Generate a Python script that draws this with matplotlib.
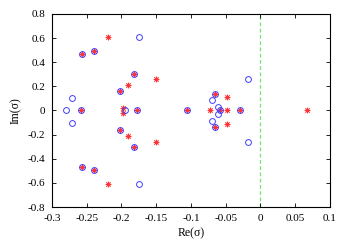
import numpy as np
import matplotlib
matplotlib.use("Agg")
import matplotlib.pyplot as plt

plt.rcParams["font.family"] = ["Liberation Serif", "DejaVu Serif"]
plt.rcParams["mathtext.fontset"] = "stix"

# eigenvalues, first model (open circles)
re_a = [-0.280, -0.271, -0.271, -0.258, -0.257, -0.257, -0.240, -0.240,
        -0.202, -0.202, -0.195, -0.175, -0.175, -0.182, -0.182, -0.178,
        -0.106, -0.065, -0.065, -0.069, -0.069, -0.061, -0.061, -0.058,
        -0.030, -0.018, -0.018]
im_a = [0.0, 0.101, -0.104, 0.0, 0.467, -0.467, 0.494, -0.494,
        0.162, -0.162, 0.0, 0.607, -0.607, 0.305, -0.305, 0.0,
        0.0, 0.138, -0.138, 0.088, -0.088, 0.028, -0.028, 0.0,
        0.0, 0.265, -0.265]

# eigenvalues, second model (stars)
re_b = [-0.258, -0.257, -0.257, -0.240, -0.240, -0.220, -0.220,
        -0.202, -0.202, -0.191, -0.191, -0.198, -0.198, -0.182, -0.182,
        -0.178, -0.150, -0.150, -0.106, -0.072, -0.065, -0.065,
        -0.048, -0.048, -0.058, -0.048, -0.030, 0.067]
im_b = [0.0, 0.467, -0.467, 0.494, -0.494, 0.607, -0.607,
        0.162, -0.162, 0.211, -0.211, 0.022, -0.022, 0.305, -0.305,
        0.0, 0.260, -0.260, 0.0, 0.0, 0.138, -0.138,
        0.112, -0.112, 0.0, 0.0, 0.0, 0.0]

fig = plt.figure(figsize=(3.51, 2.45), dpi=100)
ax = fig.add_axes([0.148, 0.155, 0.792, 0.788])

ax.axvline(0, color="#77e077", lw=0.9, ls=(0, (3, 2)), zorder=1)
ax.plot(re_b, im_b, ls="none", marker=(8, 2, 0), ms=4, mec="#ff3333",
        mew=0.6, zorder=2)
ax.plot(re_a, im_a, ls="none", marker="o", ms=4.2, mfc="none",
        mec="#4040ff", mew=0.7, zorder=3)

ax.set_xlim(-0.3, 0.1)
ax.set_ylim(-0.8, 0.8)
ax.set_xticks(np.arange(-0.3, 0.101, 0.05))
ax.set_yticks(np.arange(-0.8, 0.801, 0.2))
ax.set_xticklabels(["-0.3", "-0.25", "-0.2", "-0.15", "-0.1", "-0.05", "0", "0.05", "0.1"])
ax.set_yticklabels(["-0.8", "-0.6", "-0.4", "-0.2", "0", "0.2", "0.4", "0.6", "0.8"])
ax.tick_params(direction="in", top=True, right=True, length=3, width=0.6,
               labelsize=8, pad=5)
for s in ax.spines.values():
    s.set_linewidth(0.8)

ax.set_xlabel("Re(σ)", fontsize=8.5, labelpad=3)
ax.set_ylabel("Im(σ)", fontsize=8.5, labelpad=4)

fig.savefig("out.png", dpi=100)
